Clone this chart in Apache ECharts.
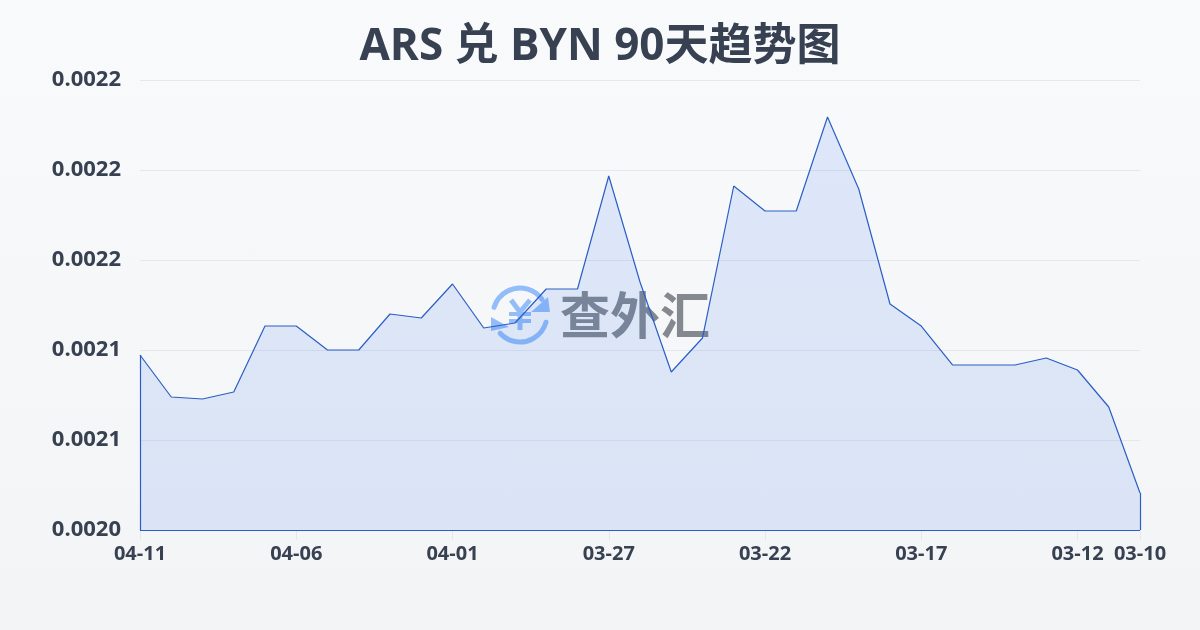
<!DOCTYPE html>
<html><head><meta charset="utf-8">
<style>html,body{margin:0;padding:0;background:linear-gradient(180deg,#f8fafc,#f3f4f6)}#c{width:1200px;height:630px}</style>
<script src="https://cdn.jsdelivr.net/npm/echarts@6/dist/echarts.min.js"></script></head>
<body><div id="c"></div><script>
const titleText='ARS 兑 BYN 90天趋势图';
const dates=['04-11','04-10','04-09','04-08','04-07','04-06','04-05','04-04','04-03','04-02','04-01','03-31','03-30','03-29','03-28','03-27','03-26','03-25','03-24','03-23','03-22','03-21','03-20','03-19','03-18','03-17','03-16','03-15','03-14','03-13','03-12','03-11','03-10'];
const rates=[0.00209722,0.00207389,0.00207278,0.00207667,0.00211333,0.00211333,0.0021,0.0021,0.00212,0.00211778,0.00213667,0.00211222,0.002115,0.00213389,0.00213389,0.00219667,0.00213778,0.00208778,0.00210667,0.00219111,0.00217722,0.00217722,0.00222944,0.00218944,0.00212556,0.00211333,0.00209167,0.00209167,0.00209167,0.00209556,0.00208889,0.00206833,0.00202056];
const shownLabels=[0,5,10,15,20,25,30,32];
const yMin=0.002,yMax=0.00225,yStep=0.00005;
const yLabels=['0.0020','0.0021','0.0021','0.0022','0.0022','0.0022'];
const font='"Open Sans","Noto Sans CJK SC",sans-serif';
const chart=echarts.init(document.getElementById('c'),null,{renderer:'canvas'});
const blue='#93bdf8';
const edge='#2b5ec4';
const last=dates.length-1;
const yen={stroke:blue,lineWidth:5,fill:null};
chart.setOption({
 backgroundColor:'transparent',animation:false,
 title:{text:titleText,left:'center',top:20,textStyle:{fontFamily:font,fontSize:44,fontWeight:'bold',color:'#374151'}},
 grid:{left:140,right:60,top:80,bottom:100},
 xAxis:{type:'category',boundaryGap:false,data:dates,
  axisLine:{show:false},
  axisTick:{show:true,length:10,lineStyle:{color:'#e5e7eb'},interval:i=>shownLabels.includes(i)},
  axisLabel:{interval:i=>shownLabels.includes(i),fontFamily:font,fontSize:20,fontWeight:'bold',color:'#374151',margin:14,hideOverlap:false},
  splitLine:{show:false}},
 yAxis:{type:'value',min:yMin,max:yMax,interval:yStep,
  axisLine:{show:false},axisTick:{show:false},
  axisLabel:{fontFamily:font,fontSize:22,fontWeight:'bold',color:'#374151',margin:19,
    formatter:(v)=>yLabels[Math.round((v-yMin)/yStep)]},
  splitLine:{lineStyle:{color:'#e5e7eb',width:1}}},
 series:[{type:'line',data:rates,symbol:'none',smooth:false,z:5,
  lineStyle:{color:edge,width:1.2},
  areaStyle:{color:'rgba(37,99,235,0.17)'},
  markLine:{silent:true,symbol:'none',label:{show:false},animation:false,
   lineStyle:{color:edge,width:1.2,type:'solid'},
   data:[
    [{coord:[dates[0],yMin]},{coord:[dates[0],rates[0]]}],
    [{coord:[dates[0],yMin]},{coord:[dates[last],yMin]}],
    [{coord:[dates[last],yMin]},{coord:[dates[last],rates[last]]}]
   ]}}],
 graphic:[{type:'group',z:1,silent:true,children:[
   {type:'arc',shape:{cx:520,cy:315,r:27,startAngle:-2.85,endAngle:-0.62},style:{stroke:blue,lineWidth:5,fill:null,lineCap:'round'}},
   {type:'arc',shape:{cx:520,cy:315,r:27,startAngle:0.27,endAngle:2.4},style:{stroke:blue,lineWidth:5,fill:null,lineCap:'round'}},
   {type:'polygon',shape:{points:[[548,297],[550,312],[531,312]]},style:{fill:blue}},
   {type:'polygon',shape:{points:[[491,317],[491,331],[509,327]]},style:{fill:blue}},
   {type:'polyline',shape:{points:[[511,300],[520,312],[530,300]]},style:yen},
   {type:'line',shape:{x1:520,y1:312,x2:520,y2:330},style:yen},
   {type:'line',shape:{x1:509,y1:314,x2:531,y2:314},style:{stroke:blue,lineWidth:4}},
   {type:'line',shape:{x1:509,y1:321,x2:531,y2:321},style:{stroke:blue,lineWidth:4}},
   {type:'text',x:560,y:315,style:{text:'查外汇',fontFamily:'"Noto Sans CJK SC",sans-serif',fontSize:50,fontWeight:'bold',fill:'#84888f',align:'left',verticalAlign:'middle'}}
 ]}]
});
</script></body></html>
